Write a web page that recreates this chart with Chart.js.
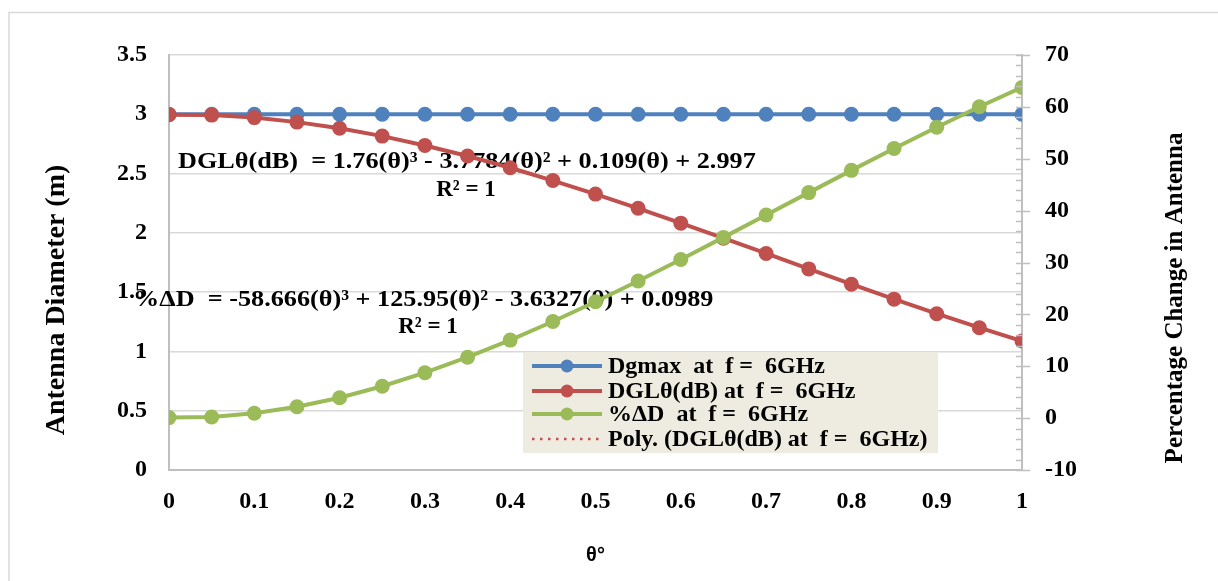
<!DOCTYPE html>
<html>
<head>
<meta charset="utf-8">
<script src="https://cdn.jsdelivr.net/npm/chart.js@4.4.0/dist/chart.umd.min.js"></script>
<style>
  html, body { margin: 0; padding: 0; background: #fff; }
</style>
</head>
<body>
<canvas id="chart" width="1218" height="581"></canvas>
<script>
// values
var theta = [0, 0.05, 0.1, 0.15, 0.2, 0.25, 0.3, 0.35, 0.4, 0.45, 0.5,
             0.55, 0.6, 0.65, 0.7, 0.75, 0.8, 0.85, 0.9, 0.95, 1];
var dgmax = [3, 3, 3, 3, 3, 3, 3, 3, 3, 3, 3, 3, 3, 3, 3, 3, 3, 3, 3, 3, 3];
var dgl = [2.997, 2.993, 2.972, 2.934, 2.882, 2.816, 2.737, 2.648, 2.549, 2.441, 2.327,
           2.207, 2.082, 1.955, 1.826, 1.696, 1.567, 1.441, 1.318, 1.200, 1.088];
var pctD = [0.10, 0.23, 0.94, 2.19, 3.94, 6.15, 8.76, 11.74, 15.04, 18.62, 22.44,
            26.44, 30.59, 34.84, 39.15, 43.47, 47.76, 51.98, 56.08, 60.02, 63.75];

var seriesNames = ["Dgmax  at  f =  6GHz", "DGL\u03b8(dB) at  f =  6GHz",
                   "%\u0394D  at  f =  6GHz", "Poly. (DGL\u03b8(dB) at  f =  6GHz)"];
var eq1 = "DGL\u03b8(dB)  = 1.76(\u03b8)\u00b3 - 3.7784(\u03b8)\u00b2 + 0.109(\u03b8) + 2.997";
var eq2 = "%\u0394D  = -58.666(\u03b8)\u00b3 + 125.95(\u03b8)\u00b2 - 3.6327(\u03b8) + 0.0989";
var rsq = "R\u00b2 = 1";

var blue = "#4F81BD", red = "#C0504D", green = "#9BBB59";
var serif = "'Liberation Serif', 'Times New Roman', serif";
var sans = "'Liberation Sans', Arial, sans-serif";

function pts(ys) {
  var out = [];
  for (var i = 0; i < theta.length; i++) out.push({ x: theta[i], y: ys[i] });
  return out;
}

function plain(v) {
  return String(Math.round(v * 100) / 100);
}

Chart.defaults.font.family = serif;
Chart.defaults.color = "#000";

// outer frame of the chart object
var frame = {
  id: "frame",
  beforeDraw: function(chart) {
    var c = chart.ctx;
    c.save();
    c.strokeStyle = "#d9d9d9";
    c.lineWidth = 1.5;
    c.beginPath();
    c.moveTo(9, 581);
    c.lineTo(9, 12.5);
    c.lineTo(1218, 12.5);
    c.stroke();
    c.restore();
  }
};

// trendline equations, under the series
var notes = {
  id: "notes",
  beforeDatasetsDraw: function(chart) {
    var c = chart.ctx;
    c.save();
    c.fillStyle = "#000";
    c.font = "bold 23px " + serif;
    c.textBaseline = "middle";
    function stretched(txt, x, y, sx) {
      c.save();
      c.translate(x, y);
      c.scale(sx, 1);
      c.textAlign = "left";
      c.fillText(txt, 0, 0);
      c.restore();
    }
    stretched(eq1, 178, 162, 1.14);
    stretched(eq2, 133, 300, 1.14);
    c.textAlign = "center";
    c.fillText(rsq, 466, 190);
    c.fillText(rsq, 428, 327);
    c.restore();
  }
};

// legend box inside the plot, axis titles, minor ticks on the right axis
var extras = {
  id: "extras",
  afterDraw: function(chart) {
    var c = chart.ctx;
    var y2 = chart.scales.y2;
    c.save();

    // right axis tick marks
    c.strokeStyle = "#bfbfbf";
    c.lineWidth = 1.5;
    for (var v = -10; v <= 70; v += 2) {
      var py = Math.round(y2.getPixelForValue(v)) + 0.5;
      c.beginPath();
      c.moveTo(y2.left - 6, py);
      c.lineTo(v % 10 === 0 ? y2.left + 8 : y2.left, py);
      c.stroke();
    }

    // legend
    c.fillStyle = "#EEECE1";
    c.fillRect(523, 352, 415, 101);
    var rows = [366, 391, 414, 439];
    var cols = [blue, red, green, red];
    c.textBaseline = "middle";
    c.textAlign = "left";
    c.font = "bold 24px " + serif;
    for (var i = 0; i < rows.length; i++) {
      c.strokeStyle = cols[i];
      c.fillStyle = cols[i];
      if (i < 3) {
        c.lineWidth = 4;
        c.setLineDash([]);
        c.beginPath();
        c.moveTo(532, rows[i]);
        c.lineTo(602, rows[i]);
        c.stroke();
        c.beginPath();
        c.arc(567, rows[i], 6.5, 0, Math.PI * 2);
        c.fill();
      } else {
        c.lineWidth = 2.5;
        c.setLineDash([2.5, 5.5]);
        c.beginPath();
        c.moveTo(532, rows[i]);
        c.lineTo(602, rows[i]);
        c.stroke();
        c.setLineDash([]);
      }
      c.fillStyle = "#000";
      c.fillText(chart.data.datasets[i].label, 608, rows[i] + 1);
    }

    // axis titles
    c.fillStyle = "#000";
    c.textAlign = "center";
    c.save();
    c.translate(57, 300);
    c.rotate(-Math.PI / 2);
    c.font = "bold 28px " + serif;
    c.fillText("Antenna Diameter (m)", 0, 0);
    c.restore();
    c.save();
    c.translate(1176, 298);
    c.rotate(-Math.PI / 2);
    c.font = "bold 25px " + serif;
    c.fillText("Percentage Change in Antenna", 0, 0);
    c.restore();

    c.restore();
  }
};

var tickFont = { size: 24, weight: "bold", family: serif };

new Chart(document.getElementById("chart"), {
  type: "line",
  data: {
    datasets: [
      { label: seriesNames[0], data: pts(dgmax), yAxisID: "y", order: 2,
        borderColor: blue, backgroundColor: blue, pointBackgroundColor: blue },
      { label: seriesNames[1], data: pts(dgl), yAxisID: "y", order: 1,
        borderColor: red, backgroundColor: red, pointBackgroundColor: red },
      { label: seriesNames[2], data: pts(pctD), yAxisID: "y2", order: 0,
        borderColor: green, backgroundColor: green, pointBackgroundColor: green },
      { label: seriesNames[3], data: pts(dgl), yAxisID: "y", order: 3,
        borderColor: red, borderWidth: 2.5, borderDash: [2.5, 5.5],
        pointRadius: 0, cubicInterpolationMode: "monotone" }
    ]
  },
  options: {
    responsive: false,
    animation: false,
    events: [],
    layout: { padding: { top: 55, left: 0, right: 0, bottom: 0 } },
    plugins: {
      legend: { display: false },
      tooltip: { enabled: false }
    },
    elements: {
      line: { borderWidth: 4, tension: 0 },
      point: { radius: 7.5, hoverRadius: 7.5, borderWidth: 0 }
    },
    scales: {
      x: {
        type: "linear", min: 0, max: 1,
        ticks: { stepSize: 0.1, font: tickFont, padding: 17, callback: plain },
        grid: { drawOnChartArea: false, drawTicks: false },
        border: { color: "#bfbfbf", width: 2 },
        title: { display: true, text: "\u03b8\u00b0", font: { family: sans, size: 20, weight: "bold" },
                 padding: { top: 0, bottom: 14 } },
        afterFit: function(s) { s.height = 111; }
      },
      y: {
        position: "left", min: 0, max: 3.5,
        ticks: { stepSize: 0.5, font: tickFont, padding: 22, callback: plain },
        grid: { color: "#d9d9d9", lineWidth: 1.5, drawTicks: false },
        border: { color: "#bfbfbf", width: 2 },
        afterFit: function(s) { s.width = 169; }
      },
      y2: {
        position: "right", min: -10, max: 70,
        ticks: { stepSize: 10, font: tickFont, padding: 23, callback: plain },
        grid: { drawOnChartArea: false, drawTicks: false },
        border: { color: "#bfbfbf", width: 2 },
        afterFit: function(s) { s.width = 196; }
      }
    }
  },
  plugins: [frame, notes, extras]
});
</script>
</body>
</html>
